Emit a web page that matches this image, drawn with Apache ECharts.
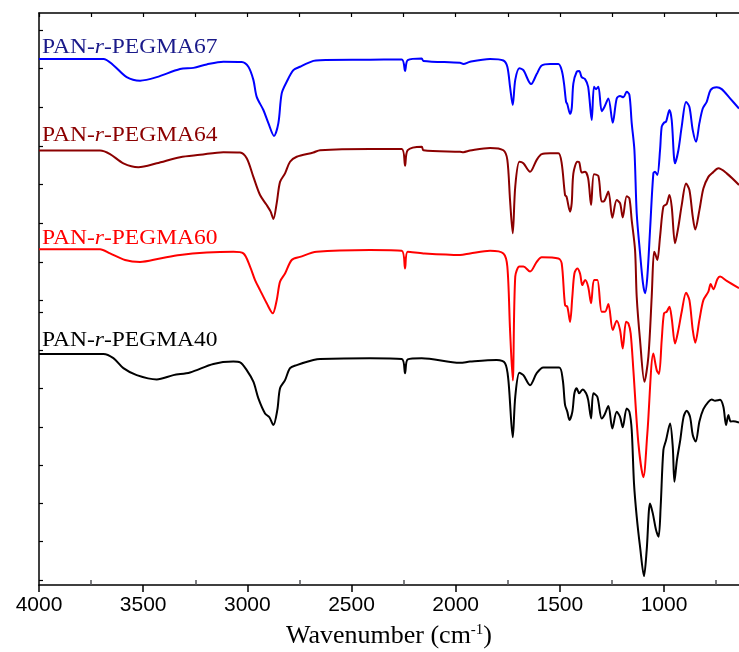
<!DOCTYPE html>
<html>
<head>
<meta charset="utf-8">
<script src="https://cdn.jsdelivr.net/npm/echarts@6/dist/echarts.min.js"></script>
<style>
  html, body { margin: 0; padding: 0; background: #fff; }
  #chart { width: 739px; height: 652px; }
</style>
</head>
<body>
<div id="chart"></div>
<script>
// FTIR spectra, [wavenumber, transmittance (a.u., stacked)]
var pegma67 = [
    [4000, 136.1], [3691, 136.1], [3643, 134.5], [3579, 131.4], [3515, 130.5], [3435, 131.4],
    [3323, 133.5], [3259, 133.8], [3195, 134.7], [3115, 135.4], [3027, 135.3], [2995, 134.1],
    [2971, 130.7], [2955, 126.3], [2923, 122.9], [2899, 119.5], [2872, 116.2], [2851, 119.5],
    [2835, 127.2], [2811, 130.2], [2779, 133.2], [2747, 134.1], [2683, 135.6], [2651, 135.8],
    [2411, 135.9], [2259, 136.0], [2243, 133.0], [2230, 135.8], [2163, 136.2], [2155, 135.6],
    [1979, 135.1], [1963, 134.8], [1931, 135.4], [1835, 136.1], [1771, 135.7], [1752, 134.1],
    [1739, 128.9], [1726, 124.2], [1714, 130.7], [1694, 133.7], [1675, 133.2], [1638, 129.6],
    [1611, 132.2], [1587, 134.4], [1547, 134.8], [1507, 134.8], [1491, 133.2], [1480, 129.8],
    [1470, 125.0], [1464, 124.4], [1451, 121.9], [1443, 123.3], [1435, 129.8], [1419, 132.8],
    [1407, 133.0], [1395, 131.4], [1379, 130.9], [1364, 128.9], [1347, 120.3], [1336, 128.9],
    [1326, 128.3], [1315, 128.9], [1299, 122.6], [1286, 123.7], [1267, 125.9], [1246, 119.6],
    [1227, 125.9], [1211, 126.5], [1195, 126.2], [1179, 127.6], [1166, 126.8], [1155, 119.5],
    [1142, 112.5], [1131, 96.2], [1115, 85.9], [1101, 78.1], [1091, 75.5], [1080, 79.8],
    [1067, 91.8], [1051, 106.5], [1043, 106.9], [1032, 106.1], [1019, 112.5], [1011, 118.6],
    [1000, 119.6], [990, 119.9], [974, 122.9], [963, 120.3], [947, 109.1], [931, 112.5],
    [915, 118.6], [894, 125.0], [878, 123.7], [862, 117.7], [846, 114.7], [830, 119.5],
    [814, 123.3], [795, 125.0], [776, 128.1], [747, 128.8], [723, 128.3], [683, 125.9], [640, 123.3]
];

var pegma64 = [
    [4000, 112.4], [3707, 112.4], [3659, 111.5], [3595, 109.1], [3523, 108.1], [3435, 109.1],
    [3323, 110.7], [3227, 111.3], [3115, 112.0], [3035, 111.9], [3003, 110.4], [2971, 105.6],
    [2939, 100.9], [2907, 98.3], [2888, 96.6], [2875, 94.7], [2859, 98.8], [2843, 104.3],
    [2819, 106.5], [2795, 109.5], [2763, 110.8], [2683, 111.9], [2651, 112.5], [2411, 112.8],
    [2259, 112.8], [2243, 108.5], [2230, 112.5], [2163, 113.4], [2155, 112.5], [1979, 112.1],
    [1963, 112.0], [1931, 112.4], [1835, 113.1], [1771, 112.5], [1752, 110.0], [1739, 99.6],
    [1726, 91.0], [1714, 103.1], [1694, 109.5], [1675, 109.1], [1643, 106.9], [1611, 110.0],
    [1587, 111.5], [1547, 111.7], [1507, 111.7], [1491, 109.1], [1475, 100.9], [1468, 100.5],
    [1451, 96.6], [1443, 98.8], [1435, 106.5], [1416, 109.5], [1407, 109.4], [1395, 106.7],
    [1379, 106.9], [1364, 105.2], [1350, 98.3], [1336, 106.3], [1315, 105.8], [1299, 99.2],
    [1286, 99.4], [1267, 101.8], [1248, 95.0], [1227, 99.6], [1211, 98.8], [1198, 95.1],
    [1179, 100.6], [1166, 100.0], [1155, 94.4], [1139, 86.7], [1131, 74.6], [1115, 63.4],
    [1094, 52.6], [1075, 59.1], [1059, 74.6], [1048, 86.2], [1043, 85.8], [1032, 84.1],
    [1019, 90.1], [1003, 97.9], [987, 98.6], [974, 100.9], [963, 97.9], [947, 88.4],
    [931, 92.7], [915, 98.3], [894, 103.9], [878, 102.2], [862, 95.3], [850, 92.0],
    [830, 97.0], [811, 102.6], [787, 105.6], [766, 106.7], [739, 107.8], [699, 106.5], [640, 103.5]
];

var pegma60 = [
    [4000, 86.9], [3707, 86.9], [3659, 85.8], [3587, 84.1], [3515, 83.6], [3419, 84.5],
    [3323, 85.4], [3195, 86.0], [3067, 86.2], [3019, 85.8], [2987, 82.4], [2963, 78.9],
    [2939, 76.3], [2907, 72.9], [2878, 70.3], [2859, 73.7], [2843, 78.5], [2819, 80.6],
    [2787, 84.1], [2747, 84.9], [2667, 86.2], [2411, 86.7], [2259, 86.5], [2243, 81.9],
    [2230, 86.2], [2155, 85.8], [1979, 85.4], [1931, 85.8], [1835, 86.5], [1771, 85.8],
    [1752, 82.4], [1739, 66.0], [1726, 52.9], [1714, 79.8], [1694, 82.4], [1675, 82.4],
    [1643, 81.1], [1611, 83.6], [1587, 84.8], [1507, 84.5], [1491, 83.2], [1475, 72.4],
    [1464, 72.0], [1451, 68.1], [1440, 74.6], [1430, 80.6], [1416, 81.9], [1403, 80.6],
    [1392, 77.6], [1379, 78.9], [1364, 77.2], [1350, 72.9], [1336, 78.9], [1320, 78.9],
    [1299, 70.7], [1283, 70.7], [1267, 72.7], [1246, 66.0], [1227, 68.4], [1211, 66.0],
    [1198, 61.2], [1182, 68.1], [1171, 67.7], [1160, 65.1], [1147, 55.6], [1123, 36.7],
    [1099, 27.9], [1080, 39.2], [1051, 59.9], [1035, 55.6], [1024, 54.6], [1011, 63.4],
    [1000, 70.3], [987, 70.7], [974, 72.0], [963, 69.0], [947, 62.5], [931, 66.0],
    [915, 70.7], [894, 75.6], [878, 73.7], [862, 66.0], [850, 62.7], [830, 68.6],
    [811, 73.7], [787, 75.9], [776, 77.9], [763, 76.5], [744, 79.1], [731, 79.8], [699, 78.7], [640, 76.8]
];

var pegma40 = [
    [4000, 59.8], [3691, 59.8], [3643, 58.7], [3595, 56.1], [3531, 54.3], [3435, 53.2],
    [3355, 54.3], [3275, 55.0], [3163, 57.2], [3067, 57.8], [3035, 57.6], [3003, 55.6],
    [2971, 52.6], [2947, 48.3], [2915, 44.4], [2894, 43.4], [2875, 41.4], [2856, 45.3],
    [2843, 50.9], [2819, 53.0], [2795, 56.1], [2763, 56.9], [2683, 58.2], [2651, 58.5],
    [2411, 58.7], [2259, 58.5], [2243, 54.8], [2230, 58.4], [2163, 58.7], [1979, 57.5],
    [1931, 57.8], [1803, 58.2], [1763, 57.4], [1747, 53.0], [1726, 38.2], [1714, 48.7],
    [1694, 54.9], [1675, 54.3], [1643, 51.7], [1611, 54.8], [1579, 56.3], [1503, 56.3],
    [1486, 53.1], [1475, 46.6], [1464, 44.8], [1454, 42.7], [1440, 44.8], [1430, 49.6],
    [1419, 50.9], [1407, 49.6], [1391, 50.6], [1374, 49.6], [1364, 47.9], [1350, 43.1],
    [1339, 49.6], [1320, 48.7], [1299, 43.1], [1286, 44.0], [1267, 46.3], [1248, 40.5],
    [1227, 44.8], [1211, 43.5], [1198, 40.8], [1179, 45.7], [1166, 44.8], [1155, 40.1],
    [1144, 26.3], [1131, 17.7], [1115, 9.9], [1096, 2.3], [1083, 9.1], [1067, 21.1],
    [1054, 18.6], [1038, 14.2], [1026, 12.5], [1016, 20.3], [1003, 34.9], [990, 37.5],
    [971, 41.8], [958, 35.8], [950, 26.7], [938, 32.3], [922, 37.5], [906, 43.5],
    [891, 45.1], [875, 43.5], [862, 38.8], [848, 37.1], [830, 42.3], [811, 45.5],
    [787, 47.4], [771, 48.0], [755, 47.7], [731, 47.9], [715, 46.1], [702, 41.4],
    [691, 44.0], [680, 42.3], [667, 42.4], [640, 42.0]
];

var xLabels = [4000, 3500, 3000, 2500, 2000, 1500, 1000];
var xMinorTicks = [3750, 3250, 2750, 2250, 1750, 1250, 750];
var xTopTicks = [4000, 3750, 3500, 3250, 3000, 2750, 2500, 2250, 2000, 1750, 1500, 1250, 1000, 750];
var yTicks = [1.3, 11.2, 21.1, 31.0, 40.9, 50.8, 60.7, 70.6, 73.6, 83.6, 93.6, 103.6, 113.6, 123.6, 133.6, 143.6];

var names = ['PAN-r-PEGMA67', 'PAN-r-PEGMA64', 'PAN-r-PEGMA60', 'PAN-r-PEGMA40'];
var lineColors = ['#0000ff', '#8b0000', '#ff0000', '#000000'];
var labelColors = ['#1a1a8a', '#8b0000', '#ff0000', '#000000'];

var chart = echarts.init(document.getElementById('chart'));

var xBase = {
    type: 'value', inverse: true, min: 640, max: 4000,
    splitLine: { show: false },
    axisLine: { lineStyle: { color: '#000', width: 1.5 } }
};

function makeLine(name, data, color) {
    return {
        name: name, type: 'line', data: data,
        smooth: 0.3, showSymbol: false, symbol: 'none',
        lineStyle: { color: color, width: 2 },
        itemStyle: { color: color }
    };
}

// sample names with italic "r", placed above each trace
var labelY = [47, 135, 238, 340];
var graphics = names.map(function (n, i) {
    var num = n.split('PEGMA')[1];
    return {
        type: 'text', x: 42, y: labelY[i], scaleX: 1.12,
        style: {
            text: '{n|PAN-}{i|r}{n|-PEGMA' + num + '}',
            fill: labelColors[i],
            verticalAlign: 'middle',
            rich: {
                n: { fontFamily: 'Liberation Serif', fontSize: 21, fill: labelColors[i] },
                i: { fontFamily: 'Liberation Serif', fontSize: 21, fontStyle: 'italic', fill: labelColors[i] }
            }
        }
    };
});

var option = {
    animation: false,
    backgroundColor: '#fff',
    grid: { left: 39, right: 0, top: 13, bottom: 67, outerBoundsMode: 'none', containLabel: false },
    xAxis: [
        Object.assign({}, xBase, {
            position: 'bottom',
            axisTick: { show: true, inside: false, length: 7, customValues: xLabels, lineStyle: { width: 1.5 } },
            axisLabel: {
                customValues: xLabels, margin: 10,
                formatter: function (v) { return String(v); },
                fontFamily: 'Liberation Sans', fontSize: 21, color: '#000'
            },
            name: '{a|Wavenumber (cm}{s|-1}{a|)}',
            nameLocation: 'middle', nameGap: 38,
            nameTextStyle: {
                rich: {
                    a: { fontFamily: 'Liberation Serif', fontSize: 26, color: '#000' },
                    s: { fontFamily: 'Liberation Serif', fontSize: 15, color: '#000', verticalAlign: 'top', padding: [0, 0, 10, 0] }
                }
            }
        }),
        Object.assign({}, xBase, {
            position: 'bottom',
            axisLine: { show: false },
            axisTick: { show: true, inside: true, length: 5, customValues: xMinorTicks, lineStyle: { width: 1.5 } },
            axisLabel: { show: false }
        }),
        Object.assign({}, xBase, {
            position: 'top',
            axisTick: { show: true, inside: true, length: 4, customValues: xTopTicks, lineStyle: { width: 1.2 } },
            axisLabel: { show: false }
        })
    ],
    yAxis: {
        type: 'value', min: 0, max: 148,
        splitLine: { show: false },
        axisLine: { show: true, lineStyle: { color: '#000', width: 1.5 } },
        axisTick: { show: true, inside: true, length: 4, customValues: yTicks, lineStyle: { width: 1.2 } },
        axisLabel: { show: false }
    },
    series: [
        makeLine(names[0], pegma67, lineColors[0]),
        makeLine(names[1], pegma64, lineColors[1]),
        makeLine(names[2], pegma60, lineColors[2]),
        makeLine(names[3], pegma40, lineColors[3])
    ],
    graphic: graphics
};

chart.setOption(option);
</script>
</body>
</html>
